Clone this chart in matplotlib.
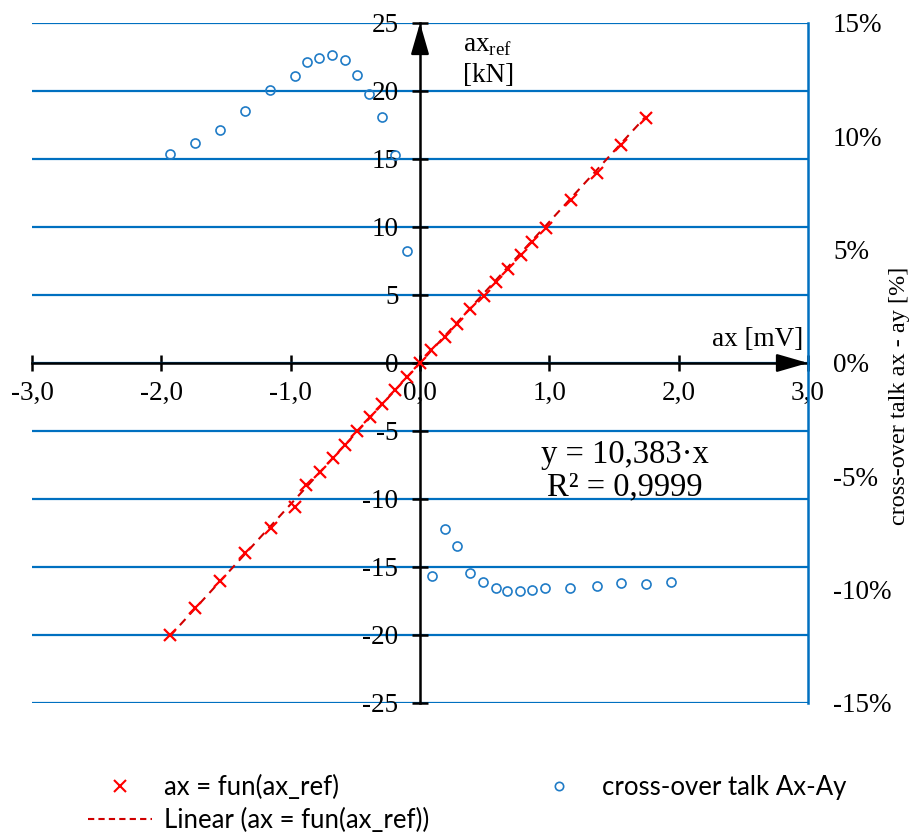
import numpy as np
import matplotlib
matplotlib.use("Agg")
import matplotlib.pyplot as plt
from matplotlib.ticker import FuncFormatter, MultipleLocator
from matplotlib.lines import Line2D

plt.rcParams['font.family'] = ['Liberation Serif', 'DejaVu Serif']
plt.rcParams['mathtext.fontset'] = 'custom'
plt.rcParams['mathtext.rm'] = 'Liberation Serif'

# ax [mV] vs ax_ref [kN]
ax_mv = [-1.933, -1.74, -1.547, -1.353, -1.152, -0.967, -0.88, -0.77, -0.67,
         -0.58, -0.485, -0.39, -0.29, -0.19, -0.10, 0.0,
         0.085, 0.193, 0.286, 0.387, 0.495, 0.588, 0.68, 0.78, 0.866, 0.974,
         1.168, 1.369, 1.555, 1.748]
ax_ref = [-20.0, -18.0, -16.0, -14.0, -12.1, -10.6, -9.0, -8.0, -7.0,
          -6.0, -5.0, -4.0, -3.0, -2.0, -1.0, 0.0,
          0.97, 1.92, 2.87, 3.97, 4.92, 5.95, 6.9, 7.92, 8.87, 9.9,
          11.95, 14.0, 16.0, 18.0]

# cross-over talk Ax-Ay [%]
xt_mv = [-1.933, -1.74, -1.547, -1.353, -1.16, -0.967, -0.874, -0.781, -0.681,
         -0.58, -0.487, -0.394, -0.294, -0.193, -0.10,
         0.093, 0.193, 0.286, 0.387, 0.487, 0.588, 0.673, 0.773, 0.866, 0.967,
         1.16, 1.369, 1.555, 1.748, 1.941]
xt_pct = [9.23, 9.72, 10.3, 11.12, 12.04, 12.66, 13.27, 13.45, 13.58,
          13.36, 12.7, 11.87, 10.86, 9.19, 4.93,
          -9.38, -7.32, -8.06, -9.25, -9.64, -9.91, -10.04, -10.08, -10.0, -9.91,
          -9.91, -9.82, -9.69, -9.73, -9.64]

slope = 10.383
r2 = 0.9999

blue = '#0070C0'
fs = 19.5

fig = plt.figure(figsize=(9.11, 8.34), dpi=100)
ax = fig.add_axes([32/911, 1-703/834, 776/911, 680/834])
ax.set_xlim(-3, 3)
ax.set_ylim(-25, 25)

ax.spines['left'].set_position(('data', 0))
ax.spines['bottom'].set_position(('data', 0))
for s in ['top', 'right']:
    ax.spines[s].set_visible(False)
for s in ['left', 'bottom']:
    ax.spines[s].set_linewidth(1.8)

ax.xaxis.set_major_locator(MultipleLocator(1))
ax.yaxis.set_major_locator(MultipleLocator(5))
ax.xaxis.set_major_formatter(FuncFormatter(lambda v, p: f"{v:.1f}".replace('.', ',')))
ax.yaxis.set_major_formatter(FuncFormatter(lambda v, p: f"{v:.0f}"))
ax.tick_params(axis='x', direction='inout', length=12, width=1.8, pad=7, labelsize=fs)
ax.tick_params(axis='y', direction='inout', length=11, width=1.8, pad=10, labelsize=fs)
ax.yaxis.grid(True, color=blue, lw=1.6)

# arrow heads
for tip, start in [((0, 25), (0, 23)), ((3, 0), (2.8, 0))]:
    ax.annotate('', xy=tip, xytext=start, xycoords='data',
                arrowprops=dict(arrowstyle='-|>,head_length=1.9,head_width=0.55',
                                mutation_scale=10, color='black', lw=1.8,
                                shrinkA=0, shrinkB=0))

# data and trend line
ax.plot(ax_mv, ax_ref, ls='none', marker='x', ms=9, mew=1.6, color='red', zorder=4)
xl = np.array([min(ax_mv), max(ax_mv)])
ax.plot(xl, slope * xl, ls=(0, (4, 3)), lw=1.5, color='#D00000', zorder=3)

eq = f"y = {slope:.3f}·x".replace('.', ',') + "\n" + f"R² = {r2:.4f}".replace('.', ',')
ax.text(1.585, -7.95, eq, ha='center', va='center', fontsize=23.5, linespacing=1.08)

# right axis
ax2 = ax.twinx()
ax2.set_ylim(-15, 15)
ax2.yaxis.set_major_locator(MultipleLocator(5))
ax2.yaxis.set_major_formatter(FuncFormatter(lambda v, p: f"{v:.0f}%"))
for s in ['top', 'left', 'bottom']:
    ax2.spines[s].set_visible(False)
ax2.spines['right'].set_color(blue)
ax2.spines['right'].set_linewidth(1.8)
ax2.tick_params(axis='y', length=0, pad=18, labelsize=fs)
ax2.plot(xt_mv, xt_pct, ls='none', marker='o', ms=6.5, mfc='none', mec='#1F7BC6', mew=1.2)

# axis labels
fig.text(803/911, 1-340/834, 'ax [mV]', ha='right', va='center', fontsize=fs)
fig.text(463/911, 1-45/834, r'ax$_{\mathregular{ref}}$', ha='left', va='center', fontsize=fs)
fig.text(463/911, 1-75/834, '[kN]', ha='left', va='center', fontsize=fs)
fig.text(900/911, 1-396/834, 'cross-over talk ax - ay [%]', rotation=90,
         ha='center', va='center', fontsize=17.5)

# legend
lprop = dict(family=['Lato', 'DejaVu Sans'], size=18.5)
h1 = Line2D([], [], ls='none', marker='x', ms=8, mew=1.5, color='red')
h2 = Line2D([], [], ls=(0, (3, 2)), lw=1.5, color='#D00000')
h3 = Line2D([], [], ls='none', marker='o', ms=6, mfc='none', mec='#1F7BC6', mew=1.2)
leg1 = fig.legend([h1, h2], ['ax = fun(ax_ref)', 'Linear (ax = fun(ax_ref))'],
                  loc='upper left', bbox_to_anchor=(88/911, 1-775/834), frameon=False,
                  prop=lprop, handlelength=2.5, handletextpad=0.45, labelspacing=0.32,
                  borderpad=0, borderaxespad=0)
leg2 = fig.legend([h3], ['cross-over talk Ax-Ay'],
                  loc='upper left', bbox_to_anchor=(527/911, 1-775/834), frameon=False,
                  prop=lprop, handlelength=2.5, handletextpad=0.4,
                  borderpad=0, borderaxespad=0)

fig.savefig('out.png', dpi=100)
